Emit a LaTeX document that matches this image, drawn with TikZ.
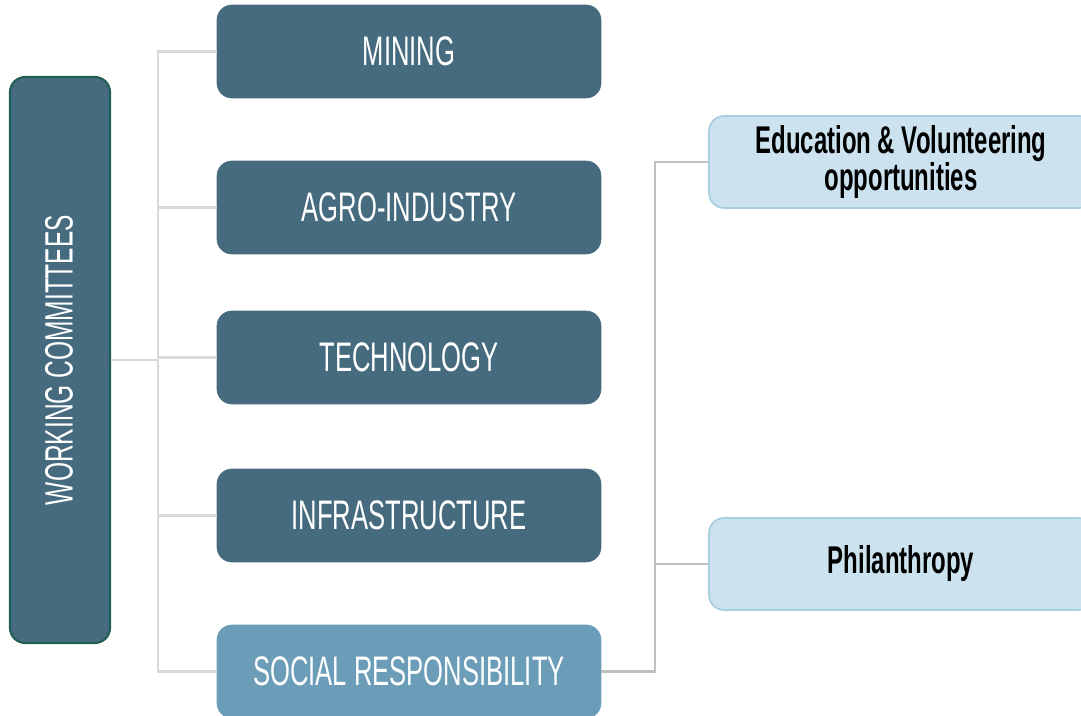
\documentclass[tikz,border=0pt]{standalone}
\usepackage{fontspec}
\setmainfont{Liberation Sans}[FakeStretch=0.62]
\usepackage{tikz}
\usepackage[dvipsnames]{xcolor}

\definecolor{slate}{HTML}{466B7F}
\definecolor{slateedge}{HTML}{1D5E55}
\definecolor{steel}{HTML}{6B9DB8}
\definecolor{pale}{HTML}{CCE3EF}
\definecolor{paleedge}{HTML}{A9CEE2}
\definecolor{wire}{HTML}{D9D9D9}
\definecolor{wiredark}{HTML}{BFBFBF}

\tikzset{
    committee/.style={rectangle, rounded corners=0.3cm, fill=slate, draw=slate,
        minimum width=7.68cm, minimum height=1.86cm, text=white,
        font=\fontsize{23.5}{26}\selectfont},
    focus/.style={committee, fill=steel, draw=steel},
    topic/.style={rectangle, rounded corners=0.3cm, fill=pale, draw=paleedge, line width=1pt,
        minimum width=7.68cm, minimum height=1.84cm, text=black, align=center,
        font=\fontsize{22}{20}\selectfont\bfseries},
    link/.style={draw=wire, line width=1.2pt},
    linkdark/.style={draw=wiredark, line width=1.2pt}
}

\begin{document}
\begin{tikzpicture}[x=0.02cm, y=-0.02cm]
    \useasboundingbox (0,0) rectangle (1081,716);

    % Left column
    \node[rectangle, rounded corners=0.3cm, fill=slate, draw=slateedge, line width=1.2pt,
        minimum width=2cm, minimum height=11.32cm] (wc) at (60,360) {};
    \node[rotate=90, text=white, font=\fontsize{22.5}{26}\selectfont] (wclabel) at (59,360) {WORKING COMMITTEES};

    % Committees
    \node[committee] (mining) at (409,51.5) {MINING};
    \node[committee] (agro) at (409,207.5) {AGRO-INDUSTRY};
    \node[committee] (tech) at (409,357.5) {TECHNOLOGY};
    \node[committee] (infra) at (409,515.5) {INFRASTRUCTURE};
    \node[focus] (social) at (409,671.5) {SOCIAL RESPONSIBILITY};

    % Social responsibility topics
    \node[topic] (edu) at (901,162) {Education \& Volunteering\\opportunities};
    \node[topic] (phil) at (901,564) {Philanthropy};

    % Connectors
    \foreach \n in {mining, agro, tech, infra, social}
        \draw[link] (\n.west) -- ++(-59,0) |- (wc.east);
    \foreach \n in {edu, phil}
        \draw[linkdark] (social.east) -- ++(54,0) |- (\n.west);
\end{tikzpicture}
\end{document}
